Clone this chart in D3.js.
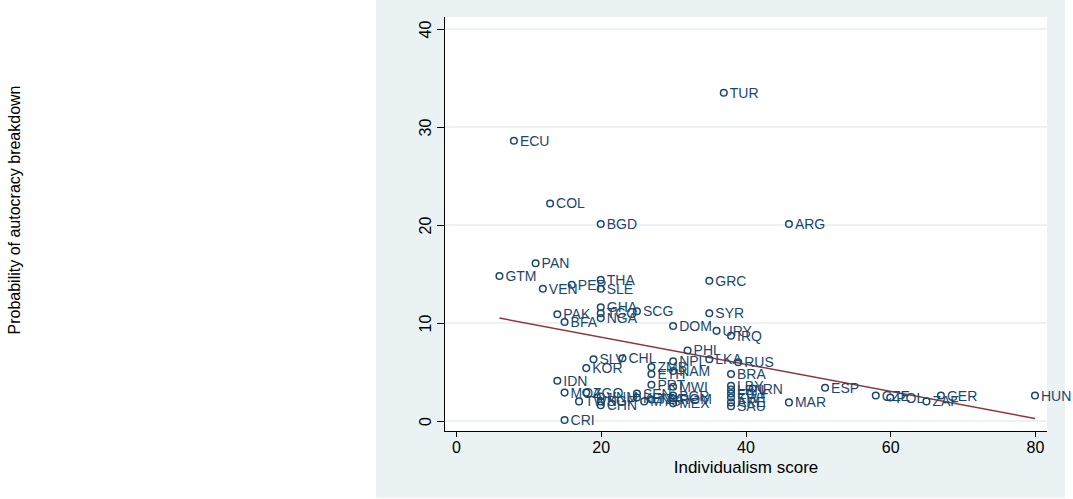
<!DOCTYPE html>
<meta charset="utf-8">
<style>
    body { margin: 0; background: #fff; }
    text { font-family: "Liberation Sans", Arial, sans-serif; }
    .pt circle { fill: none; stroke: #1a476f; stroke-width: 1.5; }
    .pt text { fill: #1a476f; font-size: 14px; }
    .axis path, .axis line { stroke: #000; shape-rendering: crispEdges; }
    .axis text { font-size: 16px; fill: #000; }
</style>
<body>
<script src="https://cdn.jsdelivr.net/npm/d3@7"></script>
<script>

    // country codes, individualism score, probability of breakdown
    var codes = ["TUR","ECU","COL","BGD","ARG","PAN","GTM","THA","GRC","PER","VEN","SLE",
                 "GHA","TGO","NGA","SCG","SYR","PAK","BFA","DOM","URY","IRQ","PHL","NPL",
                 "LKA","RUS","SLV","CHL","KOR","ZMB","NAM","ETH","BRA","IDN","PRT","MWI",
                 "LBY","LBN","IRN","EGY","KWT","ARE","SAU","ESP","MOZ","AGO","TWN","VNM",
                 "SGP","CHN","SEN","KEN","TZA","MYS","BGR","ROM","MEX","MAR","CZE","POL",
                 "ZAF","GER","HUN","CRI"];
    var indiv = [37, 8, 13, 20, 46, 11, 6, 20, 35, 16, 12, 20,
                 20, 20, 20, 25, 35, 14, 15, 30, 36, 38, 32, 30,
                 35, 39, 19, 23, 18, 27, 30, 27, 38, 14, 27, 30,
                 38, 38, 41, 38, 38, 38, 38, 51, 15, 18, 17, 20,
                 20, 20, 25, 25, 27, 26, 30, 30, 30, 46, 58, 60,
                 65, 67, 80, 15];
    var prob = [33.5, 28.6, 22.2, 20.1, 20.1, 16.1, 14.8, 14.4, 14.3, 13.9, 13.5, 13.5,
                11.6, 11.0, 10.5, 11.2, 11.0, 10.9, 10.1, 9.7, 9.2, 8.7, 7.2, 6.1,
                6.3, 6.0, 6.3, 6.4, 5.4, 5.5, 5.1, 4.8, 4.8, 4.1, 3.7, 3.5,
                3.6, 3.2, 3.3, 2.8, 2.4, 1.9, 1.5, 3.4, 2.9, 2.9, 2.0, 2.5,
                2.0, 1.6, 2.8, 2.4, 2.2, 2.0, 2.6, 2.3, 1.8, 1.9, 2.6, 2.4,
                2.0, 2.6, 2.6, 0.1];

    // fitted line end points
    var fitX = [6, 80];
    var fitY = [10.5, 0.25];

    var xTicks = [0, 20, 40, 60, 80];
    var yTicks = [0, 10, 20, 30, 40];

    var W = 1073, H = 499;
    var plot = {left: 444, right: 1047, top: 17, bottom: 431};

    var x = d3.scaleLinear().domain([0, 80]).range([456, 1035]);
    var y = d3.scaleLinear().domain([0, 40]).range([421, 29]);

    var svg = d3.select("body").append("svg")
        .attr("width", W)
        .attr("height", H);

    // graph region background
    svg.append("rect")
        .attr("x", 376).attr("y", 0)
        .attr("width", 1065 - 376).attr("height", 498)
        .attr("fill", "#eaf2f3");

    svg.append("rect")
        .attr("x", plot.left).attr("y", plot.top)
        .attr("width", plot.right - plot.left).attr("height", plot.bottom - plot.top)
        .attr("fill", "#fff");

    // gridlines
    svg.append("g").selectAll("line")
        .data(yTicks)
        .join("line")
        .attr("x1", plot.left).attr("x2", plot.right)
        .attr("y1", d => y(d)).attr("y2", d => y(d))
        .attr("stroke", "#e4edf0")
        .attr("stroke-width", 1.5);

    // axes
    var xAxis = d3.axisBottom(x).tickValues(xTicks).tickSize(6).tickPadding(5).tickSizeOuter(0);
    var yAxis = d3.axisLeft(y).tickValues(yTicks).tickSize(7).tickPadding(5).tickSizeOuter(0);

    var gx = svg.append("g").attr("class", "axis")
        .attr("transform", "translate(0," + plot.bottom + ")")
        .call(xAxis);
    gx.select(".domain").remove();
    gx.append("line")
        .attr("x1", plot.left).attr("x2", plot.right)
        .attr("stroke", "#000");

    var gy = svg.append("g").attr("class", "axis")
        .attr("transform", "translate(" + plot.left + ",0)")
        .call(yAxis);
    gy.select(".domain").remove();
    gy.append("line")
        .attr("y1", plot.top).attr("y2", plot.bottom)
        .attr("stroke", "#000");
    gy.selectAll(".tick text")
        .attr("x", null).attr("dy", null)
        .attr("text-anchor", "middle")
        .attr("transform", "translate(-19,0) rotate(-90)")
        .attr("dy", "0.35em");

    // fit line
    svg.append("path")
        .datum(d3.zip(fitX, fitY))
        .attr("d", d3.line().x(d => x(d[0])).y(d => y(d[1])))
        .attr("fill", "none")
        .attr("stroke", "#90353b")
        .attr("stroke-width", 1.5);

    // points and labels
    var pts = svg.append("g").selectAll("g")
        .data(codes.map((c, i) => ({code: c, x: indiv[i], y: prob[i]})))
        .join("g")
        .attr("class", "pt")
        .attr("transform", d => "translate(" + x(d.x) + "," + y(d.y) + ")");

    pts.append("circle").attr("r", 3.3);
    pts.append("text")
        .attr("x", 6)
        .attr("dy", "0.36em")
        .text(d => d.code);

    // titles
    svg.append("text")
        .attr("x", 746).attr("y", 473)
        .attr("text-anchor", "middle")
        .style("font-size", "17px")
        .text("Individualism score");

    svg.append("text")
        .attr("transform", "translate(20,210) rotate(-90)")
        .attr("text-anchor", "middle")
        .style("font-size", "16px")
        .text("Probability of autocracy breakdown");

</script>
